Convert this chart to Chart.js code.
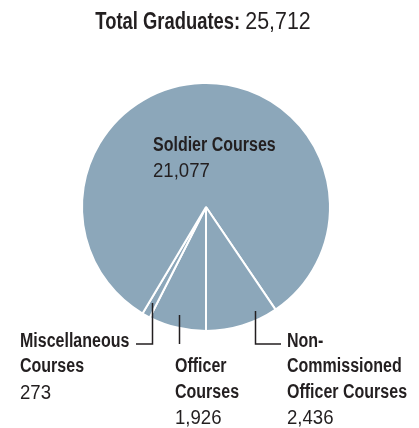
<!DOCTYPE html>
<html>
<head>
<meta charset="utf-8">
<script src="https://cdn.jsdelivr.net/npm/chart.js@4"></script>
<style>
  html, body { margin: 0; padding: 0; background: #fff; }
  #wrap { width: 419px; height: 428px; position: relative; }
</style>
</head>
<body>
<div id="wrap"><canvas id="pieChart" width="419" height="428"></canvas></div>
<script>
// --- Data ---
const categories = ['Officer Courses', 'Miscellaneous Courses', 'Soldier Courses', 'Non-Commissioned Officer Courses'];
const graduates = [1926, 273, 21077, 2436];
const totalGraduates = 25712;

const sliceColor = '#8ca7ba';
const inkColor = '#231f20';
const family = '"Liberation Sans", Arial, sans-serif';

const fmt = n => n.toLocaleString('en-US');

// Condensed look: squeeze the text horizontally
function drawText(ctx, text, x, y, bold, size) {
    const squeeze = bold ? 0.80 : 0.93;
    ctx.save();
    ctx.font = (bold ? 'bold ' : '') + size + 'px ' + family;
    ctx.translate(x, y);
    ctx.scale(squeeze, 1);
    ctx.fillText(text, 0, 0);
    const w = ctx.measureText(text).width * squeeze;
    ctx.restore();
    return w;
}

function textWidth(ctx, text, bold, size) {
    const squeeze = bold ? 0.80 : 0.93;
    ctx.save();
    ctx.font = (bold ? 'bold ' : '') + size + 'px ' + family;
    const w = ctx.measureText(text).width * squeeze;
    ctx.restore();
    return w;
}

// Title, slice labels and leader lines
const labelPlugin = {
    id: 'labels',
    afterDraw(chart) {
        const ctx = chart.ctx;
        ctx.save();
        ctx.fillStyle = inkColor;
        ctx.textBaseline = 'alphabetic';

        // Title: bold label + regular number, centred
        const t1 = 'Total Graduates: ';
        const t2 = fmt(totalGraduates);
        const w1 = textWidth(ctx, t1, true, 23);
        const w2 = textWidth(ctx, t2, false, 23);
        const x = 203 - (w1 + w2) / 2;
        drawText(ctx, t1, x, 29, true, 23);
        drawText(ctx, t2, x + w1, 29, false, 23);

        // Soldier Courses (inside the big slice)
        drawText(ctx, 'Soldier Courses', 153, 151, true, 20);
        drawText(ctx, fmt(graduates[2]), 153, 177, false, 20);

        // Miscellaneous Courses
        drawText(ctx, 'Miscellaneous', 20, 347, true, 20);
        drawText(ctx, 'Courses', 20, 372, true, 20);
        drawText(ctx, fmt(graduates[1]), 20, 399, false, 20);

        // Officer Courses
        drawText(ctx, 'Officer', 175, 372, true, 20);
        drawText(ctx, 'Courses', 175, 398, true, 20);
        drawText(ctx, fmt(graduates[0]), 175, 424, false, 20);

        // Non-Commissioned Officer Courses
        drawText(ctx, 'Non-', 287, 347, true, 20);
        drawText(ctx, 'Commissioned', 287, 372, true, 20);
        drawText(ctx, 'Officer Courses', 287, 398, true, 20);
        drawText(ctx, fmt(graduates[3]), 287, 424, false, 20);

        // Leader lines
        ctx.strokeStyle = inkColor;
        ctx.lineWidth = 1.5;
        ctx.beginPath();
        ctx.moveTo(152.5, 303);
        ctx.lineTo(152.5, 344);
        ctx.lineTo(136, 344);
        ctx.moveTo(179.5, 315);
        ctx.lineTo(179.5, 344);
        ctx.moveTo(255.5, 311);
        ctx.lineTo(255.5, 344);
        ctx.lineTo(281, 344);
        ctx.stroke();

        ctx.restore();
    }
};

const ctxPie = document.getElementById('pieChart');
new Chart(ctxPie.getContext('2d'), {
    type: 'pie',
    data: {
        labels: categories,
        datasets: [{
            data: graduates,
            backgroundColor: sliceColor,
            borderColor: '#ffffff',
            borderWidth: 2,
            hoverOffset: 0
        }]
    },
    options: {
        responsive: false,
        animation: false,
        rotation: 180,
        layout: {
            padding: { left: 81, right: 88, top: 82, bottom: 96 }
        },
        plugins: {
            legend: { display: false },
            tooltip: { enabled: false },
            title: { display: false }
        }
    },
    plugins: [labelPlugin]
});
</script>
</body>
</html>
